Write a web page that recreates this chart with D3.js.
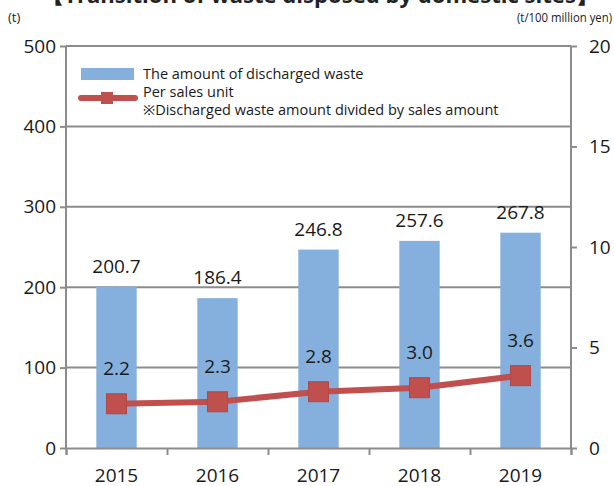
<!DOCTYPE html>
<html>
<head>
<meta charset="utf-8">
<script src="https://cdn.jsdelivr.net/npm/d3@7"></script>
<style>
  body { margin: 0; background: #fff; }
  svg { display: block; font-family: "Open Sans", "Noto Sans", sans-serif; }
</style>
</head>
<body>
<div id="chart"></div>
<script>
const years = ["2015", "2016", "2017", "2018", "2019"];
const wasteTons = [200.7, 186.4, 246.8, 257.6, 267.8];
const perSales = [2.2, 2.3, 2.8, 3.0, 3.6];
const leftTicks = [0, 100, 200, 300, 400, 500];
const rightTicks = [0, 5, 10, 15, 20];

const width = 614, height = 486;
const margin = { top: 46, right: 43, bottom: 38, left: 66 };
const innerW = width - margin.left - margin.right;
const innerH = height - margin.top - margin.bottom;

const svg = d3.select("#chart").append("svg")
  .attr("width", width).attr("height", height);

// title, cut off at the top edge as in the source image
svg.append("text")
  .attr("x", 320).attr("y", 3)
  .attr("text-anchor", "middle")
  .attr("font-size", 21).attr("font-weight", "bold")
  .attr("fill", "#222")
  .attr("textLength", 556).attr("lengthAdjust", "spacingAndGlyphs")
  .text("【Transition of waste disposed by domestic sites】");

const g = svg.append("g").attr("transform", `translate(${margin.left},${margin.top})`);

const x = d3.scaleBand().domain(years).range([0, innerW]).paddingInner(0.6).paddingOuter(0.3);
const yL = d3.scaleLinear().domain([0, 500]).range([innerH, 0]);
const yR = d3.scaleLinear().domain([0, 20]).range([innerH, 0]);
const gridColor = "#8c8c8c";

// grid
g.selectAll(".grid").data(leftTicks.filter(d => d > 0)).enter().append("line")
  .attr("x1", 0).attr("x2", innerW)
  .attr("y1", d => yL(d)).attr("y2", d => yL(d))
  .attr("stroke", gridColor).attr("stroke-width", 2);

// bars
g.selectAll(".bar").data(wasteTons).enter().append("rect")
  .attr("x", (d, i) => x(years[i]))
  .attr("width", x.bandwidth())
  .attr("y", d => yL(d))
  .attr("height", d => innerH - yL(d))
  .attr("fill", "#85b0dd");

// axes
const axL = g.append("g").call(d3.axisLeft(yL).tickValues(leftTicks).tickSize(6).tickPadding(4));
const axR = g.append("g").attr("transform", `translate(${innerW},0)`)
  .call(d3.axisRight(yR).tickValues(rightTicks).tickSize(6).tickPadding(12));
const bottomScale = d3.scaleLinear().domain([0, years.length]).range([0, innerW]);
const axB = g.append("g").attr("transform", `translate(0,${innerH})`)
  .call(d3.axisBottom(bottomScale).tickValues(d3.range(years.length + 1)).tickSize(7).tickFormat(""));

[axL, axR, axB].forEach(a => {
  a.select(".domain").attr("stroke", gridColor).attr("stroke-width", 2);
  a.selectAll(".tick line").attr("stroke", gridColor).attr("stroke-width", 2);
  a.selectAll("text").attr("font-size", 19).attr("fill", "#1a1a1a").attr("font-family", "Open Sans, sans-serif");
});
axL.select(".domain").attr("d", `M0,${innerH}V0`);
axR.select(".domain").attr("d", `M0,${innerH}V0`);
axL.selectAll(".tick text").attr("x", -10);

// year labels
g.selectAll(".year").data(years).enter().append("text")
  .attr("x", d => x(d) + x.bandwidth() / 2)
  .attr("y", innerH + 34)
  .attr("text-anchor", "middle")
  .attr("font-size", 19).attr("fill", "#1a1a1a")
  .text(d => d);

// bar value labels
g.selectAll(".bv").data(wasteTons).enter().append("text")
  .attr("x", (d, i) => x(years[i]) + x.bandwidth() / 2)
  .attr("y", d => yL(d) - 14)
  .attr("text-anchor", "middle")
  .attr("font-size", 19).attr("fill", "#1a1a1a")
  .text(d => d.toFixed(1));

// line + markers
const cx = i => x(years[i]) + x.bandwidth() / 2;
g.append("path")
  .datum(perSales)
  .attr("d", d3.line().x((d, i) => cx(i)).y(d => yR(d)))
  .attr("fill", "none").attr("stroke", "#c0504d").attr("stroke-width", 6);
g.selectAll(".mk").data(perSales).enter().append("rect")
  .attr("x", (d, i) => cx(i) - 10).attr("y", d => yR(d) - 10)
  .attr("width", 20).attr("height", 20)
  .attr("fill", "#c0504d").attr("stroke", "#b24845").attr("stroke-width", 1);
g.selectAll(".lv").data(perSales).enter().append("text")
  .attr("x", (d, i) => cx(i))
  .attr("y", d => yR(d) - 29)
  .attr("text-anchor", "middle")
  .attr("font-size", 19).attr("fill", "#1a1a1a")
  .text(d => d.toFixed(1));

// unit labels
svg.append("text").attr("x", 8).attr("y", 22).attr("font-size", 13).attr("fill", "#1a1a1a").text("(t)");
svg.append("text").attr("x", 612).attr("y", 22).attr("text-anchor", "end")
  .attr("font-size", 12).attr("fill", "#1a1a1a")
  .attr("textLength", 95).attr("lengthAdjust", "spacingAndGlyphs")
  .text("(t/100 million yen)");

// legend
const lg = svg.append("g").attr("font-size", 14.5).attr("fill", "#1a1a1a");
lg.append("rect").attr("x", 81).attr("y", 68).attr("width", 53).attr("height", 12).attr("fill", "#85b0dd");
lg.append("text").attr("x", 143).attr("y", 79).text("The amount of discharged waste");
lg.append("line").attr("x1", 81).attr("x2", 135).attr("y1", 98).attr("y2", 98)
  .attr("stroke", "#c0504d").attr("stroke-width", 6).attr("stroke-linecap", "round");
lg.append("rect").attr("x", 101).attr("y", 92).attr("width", 12).attr("height", 12).attr("fill", "#c0504d");
lg.append("text").attr("x", 143).attr("y", 97).text("Per sales unit");
lg.append("text").attr("x", 143).attr("y", 115).text("※Discharged waste amount divided by sales amount");
</script>
</body>
</html>
